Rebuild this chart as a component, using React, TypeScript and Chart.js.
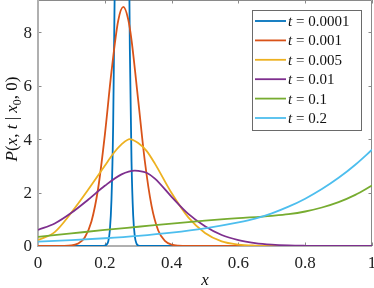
import React, { useEffect, useRef } from "react";
import { Chart, registerables } from "chart.js";

Chart.register(...registerables);

// ---- data ----
const seriesLabels = ["0.0001", "0.001", "0.005", "0.01", "0.1", "0.2"];
const seriesColors = ["#0072BD", "#D95319", "#EDB120", "#7E2F8E", "#77AC30", "#4DBEEE"];

const t0001X = [0, 0.1, 0.19, 0.2, 0.205, 0.21, 0.215, 0.22, 0.225, 0.23, 0.235, 0.24, 0.245, 0.2515, 0.255, 0.26, 0.265, 0.27, 0.275, 0.28, 0.285, 0.29, 0.295, 0.3, 0.31, 0.4, 1];
const t0001Y = [0, 0, 0, 0.01, 0.05, 0.16, 0.57, 1.74, 4.5, 9.9, 18.4, 29.2, 39.2, 45, 43.2, 35.5, 24.7, 14.7, 7.36, 3.15, 1.14, 0.35, 0.09, 0.02, 0, 0, 0];

const t001X = [0, 0.05, 0.1, 0.12, 0.14, 0.16, 0.18, 0.2, 0.22, 0.24, 0.2555, 0.27, 0.28, 0.3, 0.32, 0.34, 0.36, 0.38, 0.4, 0.42, 0.45, 0.5, 1];
const t001Y = [0, 0, 0.021, 0.091, 0.32, 0.915, 2.15, 4.14, 6.52, 8.42, 8.94, 8.48, 7.7, 5.45, 3.16, 1.5, 0.58, 0.19, 0.05, 0.01, 0, 0, 0];

const t005X = [0, 0.05, 0.1, 0.15, 0.2, 0.225, 0.25, 0.275, 0.3, 0.325, 0.35, 0.4, 0.45, 0.5, 0.55, 0.6, 0.65, 0.7, 0.8, 1];
const t005Y = [0.22, 0.52, 1.25, 2.1, 3.0, 3.45, 3.8, 4.0, 3.85, 3.56, 3.08, 1.98, 1.07, 0.49, 0.175, 0.055, 0.015, 0.004, 0, 0];

const t01X = [0, 0.05, 0.1, 0.15, 0.2, 0.25, 0.29, 0.3, 0.325, 0.35, 0.4, 0.45, 0.5, 0.55, 0.6, 0.65, 0.7, 0.75, 0.8, 0.9, 1];
const t01Y = [0.6, 0.84, 1.24, 1.73, 2.25, 2.68, 2.82, 2.81, 2.74, 2.52, 1.84, 1.2, 0.74, 0.41, 0.22, 0.11, 0.05, 0.02, 0.008, 0, 0];

const t1X = [0, 0.1, 0.2, 0.3, 0.4, 0.5, 0.6, 0.7, 0.75, 0.8, 0.85, 0.9, 0.95, 1];
const t1Y = [0.34, 0.47, 0.6, 0.72, 0.84, 0.95, 1.04, 1.13, 1.19, 1.29, 1.44, 1.64, 1.91, 2.26];

const t2X = [0, 0.1, 0.2, 0.3, 0.4, 0.5, 0.6, 0.65, 0.7, 0.75, 0.8, 0.85, 0.9, 0.95, 1];
const t2Y = [0.16, 0.22, 0.29, 0.38, 0.5, 0.66, 0.88, 1.02, 1.22, 1.47, 1.77, 2.13, 2.55, 3.04, 3.6];

const seriesX = [t0001X, t001X, t005X, t01X, t1X, t2X];
const seriesY = [t0001Y, t001Y, t005Y, t01Y, t1Y, t2Y];

const xTickValues = [0, 0.2, 0.4, 0.6, 0.8, 1];
const xTickLabels = ["0", "0.2", "0.4", "0.6", "0.8", "1"];
const yTickValues = [0, 2, 4, 6, 8];
const yTickLabels = ["0", "2", "4", "6", "8"];

const SERIF = "'Liberation Serif', 'DejaVu Serif', serif";

type Part = { t: string; it?: boolean; sub?: boolean };

function measureParts(ctx: CanvasRenderingContext2D, parts: Part[], size: number) {
  let w = 0;
  for (const p of parts) {
    const s = p.sub ? size * 0.7 : size;
    ctx.font = `${p.it ? "italic " : ""}${s}px ${SERIF}`;
    w += ctx.measureText(p.t).width;
  }
  return w;
}

function drawParts(ctx: CanvasRenderingContext2D, parts: Part[], x: number, y: number, size: number) {
  let cx = x;
  ctx.textBaseline = "alphabetic";
  ctx.textAlign = "left";
  for (const p of parts) {
    const s = p.sub ? size * 0.7 : size;
    ctx.font = `${p.it ? "italic " : ""}${s}px ${SERIF}`;
    ctx.fillText(p.t, cx, p.sub ? y + size * 0.22 : y);
    cx += ctx.measureText(p.t).width;
  }
}

function drawTickLabels(ctx: CanvasRenderingContext2D, chart: any) {
  const { chartArea: a, scales } = chart;
  ctx.fillStyle = "#222222";
  ctx.font = `17px ${SERIF}`;
  ctx.textAlign = "center";
  ctx.textBaseline = "alphabetic";
  xTickValues.forEach((v, i) => {
    ctx.fillText(xTickLabels[i], scales.x.getPixelForValue(v), a.bottom + 22);
  });
  ctx.textAlign = "right";
  ctx.textBaseline = "middle";
  yTickValues.forEach((v, i) => {
    ctx.fillText(yTickLabels[i], a.left - 6, scales.y.getPixelForValue(v) + 1);
  });
}

const framePlugin = {
  id: "frame",
  beforeDatasetsDraw(chart: any) {
    const { ctx, chartArea: a, scales } = chart;
    const xs = scales.x;
    const ys = scales.y;
    ctx.save();
    ctx.fillStyle = "#ffffff";
    ctx.fillRect(0, 0, chart.width, chart.height);
    drawTickLabels(ctx, chart);
    // top & right border
    ctx.strokeStyle = "#8a8a8a";
    ctx.lineWidth = 1;
    ctx.beginPath();
    ctx.moveTo(a.left, a.top + 0.5);
    ctx.lineTo(a.right - 0.5, a.top + 0.5);
    ctx.lineTo(a.right - 0.5, a.bottom);
    ctx.stroke();
    // ticks
    const tl = 3.5;
    ctx.beginPath();
    for (const v of xTickValues) {
      const px = Math.round(xs.getPixelForValue(v)) + 0.5;
      ctx.moveTo(px, a.bottom);
      ctx.lineTo(px, a.bottom - tl);
      ctx.moveTo(px, a.top);
      ctx.lineTo(px, a.top + tl);
    }
    for (const v of yTickValues) {
      const py = Math.round(ys.getPixelForValue(v)) + 0.5;
      ctx.moveTo(a.left, py);
      ctx.lineTo(a.left + tl, py);
      ctx.moveTo(a.right, py);
      ctx.lineTo(a.right - tl, py);
    }
    ctx.stroke();
    // left & bottom axes
    ctx.strokeStyle = "#b0b0b0";
    ctx.lineWidth = 2;
    ctx.beginPath();
    ctx.moveTo(a.left, a.top);
    ctx.lineTo(a.left, a.bottom);
    ctx.lineTo(a.right, a.bottom);
    ctx.stroke();
    ctx.restore();
  },
  afterDatasetsDraw(chart: any) {
    const { ctx, chartArea: a } = chart;
    ctx.save();
    // legend box
    const lx = 252, ly = 10, lw = 109, lh = 120;
    ctx.fillStyle = "#ffffff";
    ctx.fillRect(lx, ly, lw, lh);
    ctx.strokeStyle = "#6a6a6a";
    ctx.lineWidth = 1;
    ctx.strokeRect(lx + 0.5, ly + 0.5, lw, lh);
    const rowH = 19.4;
    for (let i = 0; i < seriesLabels.length; i++) {
      const cy = 21 + i * rowH;
      ctx.strokeStyle = seriesColors[i];
      ctx.lineWidth = 1.8;
      ctx.beginPath();
      ctx.moveTo(255, cy);
      ctx.lineTo(286, cy);
      ctx.stroke();
      ctx.fillStyle = "#111111";
      drawParts(ctx, [{ t: "t", it: true }, { t: " = " + seriesLabels[i] }], 288, cy + 5, 15);
    }
    // y axis title
    const yParts: Part[] = [
      { t: "P", it: true }, { t: "(" }, { t: "x", it: true }, { t: ", " },
      { t: "t", it: true }, { t: " | " }, { t: "x", it: true }, { t: "0", it: false, sub: true },
      { t: ", 0)" },
    ];
    ctx.fillStyle = "#111111";
    const size = 17;
    const w = measureParts(ctx, yParts, size);
    ctx.translate(17, (a.top + a.bottom) / 2 - 4);
    ctx.rotate(-Math.PI / 2);
    drawParts(ctx, yParts, -w / 2, 0, size);
    ctx.setTransform(1, 0, 0, 1, 0, 0);
    // x axis title
    ctx.font = `italic 17px ${SERIF}`;
    ctx.textAlign = "center";
    ctx.textBaseline = "alphabetic";
    ctx.fillText("x", (a.left + a.right) / 2, 285);
    ctx.restore();
  },
};

export default function App() {
  const ref = useRef<HTMLCanvasElement | null>(null);
  useEffect(() => {
    if (!ref.current) return;
    const datasets = seriesLabels.map((lab, i) => ({
      label: "t = " + lab,
      data: seriesX[i].map((x, j) => ({ x, y: seriesY[i][j] })),
      borderColor: seriesColors[i],
      backgroundColor: seriesColors[i],
      borderWidth: 1.8,
      pointRadius: 0,
      fill: false,
      cubicInterpolationMode: "monotone" as const,
      order: seriesLabels.length - i,
    }));
    const chart = new Chart(ref.current, {
      type: "line",
      data: { datasets },
      options: {
        animation: false,
        responsive: false,
        layout: { padding: { left: 38, right: 2, top: 0, bottom: 42 } },
        plugins: { legend: { display: false }, tooltip: { enabled: false } },
        scales: {
          x: {
            type: "linear",
            min: 0,
            max: 1,
            display: false,
          },
          y: {
            type: "linear",
            min: 0,
            max: 9.2,
            display: false,
          },
        },
      },
      plugins: [framePlugin],
    });
    return () => chart.destroy();
  }, []);
  return (
    <div style={{ position: "absolute", left: 0, top: 0, width: 374, height: 288, background: "#fff" }}>
      <canvas ref={ref} width={374} height={288} style={{ display: "block" }} />
    </div>
  );
}
